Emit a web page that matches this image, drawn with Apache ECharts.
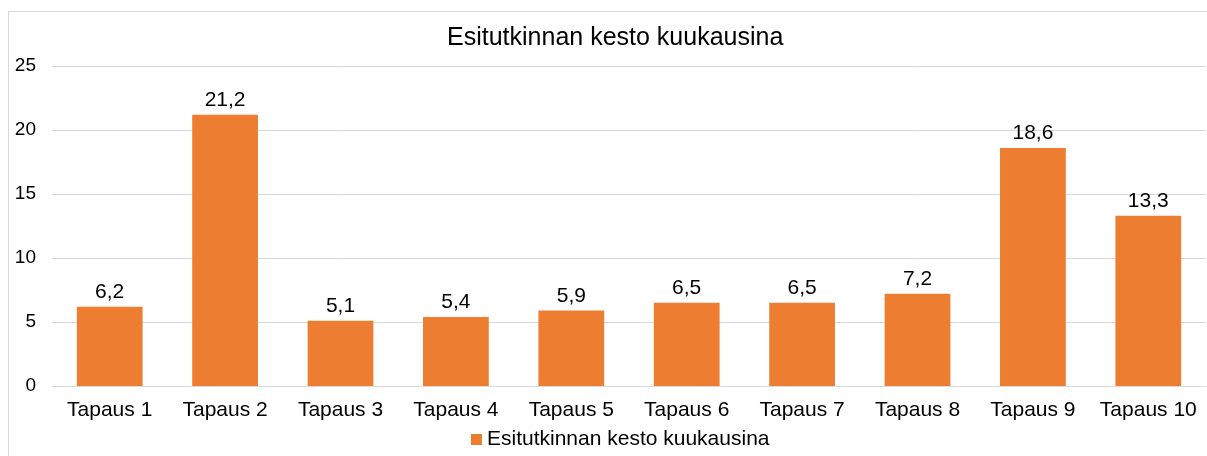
<!DOCTYPE html>
<html>
<head>
<meta charset="utf-8">
<script src="https://cdn.jsdelivr.net/npm/echarts@6/dist/echarts.min.js"></script>
<style>
  html, body { margin: 0; padding: 0; background: #fff; }
  #chart { width: 1207px; height: 456px; }
</style>
</head>
<body>
<div id="chart"></div>
<script>
const categories = ['Tapaus 1', 'Tapaus 2', 'Tapaus 3', 'Tapaus 4', 'Tapaus 5',
  'Tapaus 6', 'Tapaus 7', 'Tapaus 8', 'Tapaus 9', 'Tapaus 10'];
const kesto = [6.2, 21.2, 5.1, 5.4, 5.9, 6.5, 6.5, 7.2, 18.6, 13.3];
const seriesName = 'Esitutkinnan kesto kuukausina';

const font = 'Liberation Sans, Arial, sans-serif';
const chart = echarts.init(document.getElementById('chart'));

chart.setOption({
  animation: false,
  textStyle: { fontFamily: font },
  graphic: [{
    type: 'rect',
    shape: { x: 8.5, y: 11.5, width: 1210, height: 460 },
    style: { fill: 'none', stroke: '#d9d9d9', lineWidth: 1 },
    silent: true
  }],
  title: {
    text: seriesName,
    left: 442,
    top: 21,
    textStyle: { fontFamily: font, fontSize: 25, fontWeight: 'normal', color: '#000' }
  },
  legend: {
    bottom: 1,
    left: 466,
    itemWidth: 11,
    itemHeight: 11,
    icon: 'rect',
    itemGap: 5,
    textStyle: { fontFamily: font, fontSize: 21, color: '#000' }
  },
  grid: { left: 52, right: 1, top: 66, bottom: 70, containLabel: false },
  xAxis: {
    type: 'category',
    data: categories,
    axisLine: { lineStyle: { color: '#d9d9d9' } },
    axisTick: { show: false },
    axisLabel: { fontFamily: font, fontSize: 21, color: '#000', margin: 14, interval: 0 }
  },
  yAxis: {
    type: 'value',
    min: 0,
    max: 25,
    interval: 5,
    splitLine: { lineStyle: { color: '#d9d9d9' } },
    axisLine: { show: false },
    axisTick: { show: false },
    axisLabel: { fontFamily: font, fontSize: 19, color: '#000', margin: 16 }
  },
  series: [{
    name: seriesName,
    type: 'bar',
    data: kesto,
    barWidth: '57%',
    itemStyle: { color: '#ed7d31' },
    label: {
      show: true,
      position: 'top',
      distance: 4,
      fontFamily: font,
      fontSize: 21,
      color: '#000',
      formatter: p => String(p.value).replace('.', ',')
    }
  }]
});
</script>
</body>
</html>
